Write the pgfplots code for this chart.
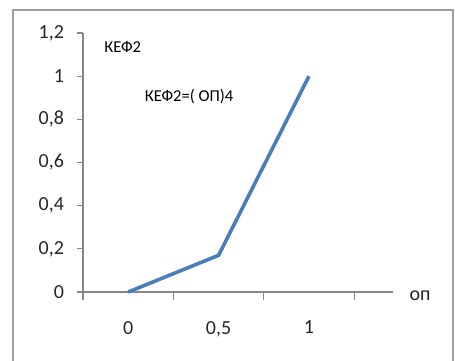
\documentclass[border=0pt]{standalone}
\usepackage{fontspec}
\setmainfont{Carlito}
\usepackage{pgfplots}
\pgfplotsset{compat=1.18}
\definecolor{lineblue}{RGB}{74,126,187}
\definecolor{axgray}{RGB}{134,134,134}
\begin{document}
\begin{tikzpicture}[x=1pt,y=1pt]
\useasboundingbox (0,0) rectangle (227.5,180);
\draw[axgray!80, line width=1pt] (6.5,-5) rectangle (226.5,175);
\begin{axis}[
  at={(41.5pt,34pt)}, anchor=south west,
  scale only axis, width=155pt, height=129.5pt,
  xmin=-0.5, xmax=2.93, ymin=0, ymax=1.2,
  axis lines*=left,
  axis line style={axgray, line width=0.6pt},
  clip=false,
  tick align=outside,
  xtick={0,1,2}, xticklabels={0,{0,5},1},
  major x tick style={draw=none},
  minor xtick={-0.5,0.5,1.5,2.5},
  minor x tick style={axgray, line width=0.6pt},
  minor tick length=4pt,
  ytick={0,0.2,0.4,0.6,0.8,1,1.2},
  yticklabels={0,{0,2},{0,4},{0,6},{0,8},1,{1,2}},
  y tick style={axgray, line width=0.6pt},
  major tick length=3pt,
  tick label style={font=\fontsize{10}{12}\selectfont, text=black!85},
  xticklabel style={yshift=-8pt},
  yticklabel style={xshift=-3pt},
]
\addplot[lineblue, line width=1.8pt] coordinates {(0,0) (1,0.17) (2,1)};
\node[font=\fontsize{8.3}{10}\selectfont] at (axis cs:-0.06,1.135) {КЕФ2};
\node[font=\fontsize{8.3}{10}\selectfont] at (axis cs:0.674,0.904) {КЕФ2=( ОП)4};
\node[font=\fontsize{10}{12}\selectfont, text=black!85] at (axis cs:3.23,-0.015) {оп};
\end{axis}
\end{tikzpicture}
\end{document}
